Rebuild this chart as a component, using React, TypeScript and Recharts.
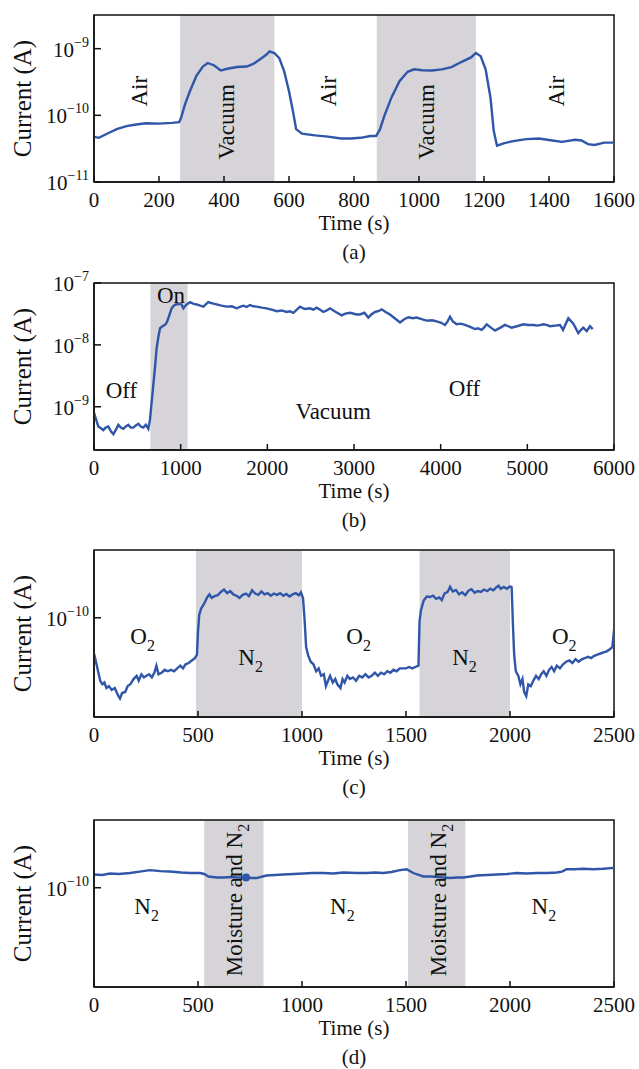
import {
  ComposedChart,
  Line,
  ReferenceArea,
  ReferenceDot,
  XAxis,
  YAxis,
} from "recharts";

const FONT = '"Liberation Serif", "Times New Roman", serif';
const BLUE = "#2f56a8";
const BAND = "#d6d4d8";
const INK = "#111";

// (a) air / vacuum cycling
const timeA = [0, 15, 40, 70, 100, 130, 160, 200, 240, 262, 268, 280, 295, 315, 335, 350, 370, 390, 410, 440, 470, 490, 510, 530, 540, 555, 570, 585, 600, 612, 622, 640, 680, 720, 760, 790, 820, 850, 868, 880, 895, 915, 940, 965, 985, 1010, 1040, 1070, 1100, 1130, 1160, 1175, 1190, 1205, 1220, 1230, 1240, 1260, 1290, 1330, 1370, 1410, 1440, 1480, 1500, 1520, 1540, 1570, 1600];
const curA = [4.75e-11, 4.6e-11, 5.3e-11, 6.2e-11, 6.9e-11, 7.3e-11, 7.6e-11, 7.5e-11, 7.7e-11, 7.9e-11, 9.2e-11, 1.46e-10, 2.3e-10, 3.9e-10, 5.4e-10, 6.1e-10, 5.6e-10, 4.7e-10, 5.0e-10, 5.3e-10, 5.4e-10, 5.9e-10, 6.9e-10, 8.1e-10, 9.1e-10, 8.6e-10, 7.2e-10, 4.6e-10, 2.3e-10, 1.16e-10, 6.2e-11, 5.3e-11, 5.0e-11, 4.8e-11, 4.5e-11, 4.5e-11, 4.6e-11, 4.9e-11, 4.9e-11, 6.2e-11, 1.03e-10, 1.84e-10, 3.25e-10, 4.5e-10, 4.9e-10, 4.75e-10, 4.7e-10, 4.9e-10, 5.3e-10, 6.3e-10, 7.4e-10, 8.6e-10, 7.7e-10, 4.9e-10, 1.84e-10, 5.8e-11, 3.5e-11, 3.8e-11, 4.1e-11, 4.4e-11, 4.5e-11, 4.2e-11, 4.0e-11, 4.3e-11, 4.2e-11, 3.7e-11, 3.6e-11, 3.9e-11, 3.9e-11];
const bandsA = [[265, 555], [870, 1175]];
const notesA = [
  { t: 137, v: 2.3e-10, text: "Air", rot: true },
  { t: 406, v: 8.0e-11, text: "Vacuum", rot: true },
  { t: 720, v: 2.3e-10, text: "Air", rot: true },
  { t: 1021, v: 8.0e-11, text: "Vacuum", rot: true },
  { t: 1422, v: 2.3e-10, text: "Air", rot: true },
];

// (b) light on / off in vacuum
const timeB = [0, 20, 50, 80, 107, 135, 165, 195, 223, 250, 281, 310, 338, 368, 396, 425, 454, 483, 512, 540, 569, 598, 627, 646, 660, 685, 705, 723, 745, 762, 790, 819, 840, 858, 878, 896, 920, 946, 985, 1010, 1031, 1050, 1069, 1108, 1150, 1185, 1225, 1262, 1290, 1319, 1365, 1415, 1470, 1531, 1590, 1646, 1685, 1723, 1760, 1800, 1840, 1877, 1935, 1992, 2050, 2108, 2165, 2223, 2260, 2300, 2340, 2377, 2430, 2492, 2530, 2569, 2610, 2646, 2685, 2723, 2790, 2858, 2900, 2954, 3031, 3069, 3120, 3165, 3200, 3242, 3280, 3319, 3365, 3415, 3470, 3531, 3580, 3627, 3680, 3723, 3780, 3838, 3900, 3954, 4000, 4050, 4080, 4108, 4140, 4185, 4230, 4281, 4340, 4396, 4430, 4473, 4500, 4531, 4580, 4627, 4690, 4742, 4780, 4819, 4880, 4954, 5010, 5069, 5120, 5185, 5220, 5262, 5320, 5377, 5412, 5473, 5531, 5588, 5620, 5646, 5685, 5723, 5754];
const curB = [8.0e-10, 6.5e-10, 4.8e-10, 4.5e-10, 4.2e-10, 4.6e-10, 4.8e-10, 4.0e-10, 3.6e-10, 4.2e-10, 5.1e-10, 4.6e-10, 4.4e-10, 4.8e-10, 5.1e-10, 4.6e-10, 4.6e-10, 5.0e-10, 5.3e-10, 4.8e-10, 4.6e-10, 5.1e-10, 4.4e-10, 6.2e-10, 1.0e-9, 2.3e-9, 4.5e-9, 8.9e-9, 1.4e-8, 1.86e-8, 2.0e-8, 2.1e-8, 2.3e-8, 2.7e-8, 3.3e-8, 3.9e-8, 4.3e-8, 4.5e-8, 4.6e-8, 4.5e-8, 3.9e-8, 4.2e-8, 4.5e-8, 4.9e-8, 4.6e-8, 4.5e-8, 4.3e-8, 4.15e-8, 4.5e-8, 4.9e-8, 4.7e-8, 4.5e-8, 4.3e-8, 4.15e-8, 4.2e-8, 3.9e-8, 4.1e-8, 4.3e-8, 4.1e-8, 4.4e-8, 4.2e-8, 4.15e-8, 4.0e-8, 3.9e-8, 3.7e-8, 3.5e-8, 3.6e-8, 3.4e-8, 3.5e-8, 3.3e-8, 3.7e-8, 4.15e-8, 3.8e-8, 3.9e-8, 3.7e-8, 4.0e-8, 3.7e-8, 3.4e-8, 3.6e-8, 3.9e-8, 3.4e-8, 3.0e-8, 3.2e-8, 3.3e-8, 3.1e-8, 3.1e-8, 3.3e-8, 2.76e-8, 3.1e-8, 3.4e-8, 3.5e-8, 3.75e-8, 3.4e-8, 3.1e-8, 2.7e-8, 2.3e-8, 2.6e-8, 2.8e-8, 2.7e-8, 2.76e-8, 2.6e-8, 2.47e-8, 2.5e-8, 2.4e-8, 2.3e-8, 2.1e-8, 2.4e-8, 2.86e-8, 2.4e-8, 2.15e-8, 2.2e-8, 2.1e-8, 1.95e-8, 1.8e-8, 1.85e-8, 1.75e-8, 1.9e-8, 2.15e-8, 1.9e-8, 1.7e-8, 1.9e-8, 2.1e-8, 2.0e-8, 1.9e-8, 2.0e-8, 2.15e-8, 2.1e-8, 2.1e-8, 2.05e-8, 2.15e-8, 2.1e-8, 2.0e-8, 2.05e-8, 2.1e-8, 1.75e-8, 2.7e-8, 2.2e-8, 1.55e-8, 1.75e-8, 1.9e-8, 1.67e-8, 2.0e-8, 1.8e-8];
const bandsB = [[650, 1080]];
const notesB = [
  { t: 316, v: 1.9e-9, text: "Off" },
  { t: 889, v: 6.4e-8, text: "On" },
  { t: 2761, v: 8.4e-10, text: "Vacuum" },
  { t: 4275, v: 2.0e-9, text: "Off" },
];

// (c) O2 / N2 switching
const timeC = [0, 8, 18, 30, 40, 50, 60, 72, 85, 100, 115, 125, 135, 150, 162, 175, 190, 205, 215, 228, 240, 252, 265, 278, 290, 300, 310, 325, 340, 355, 370, 385, 400, 415, 428, 440, 455, 470, 485, 495, 500, 506, 515, 530, 545, 555, 565, 580, 595, 610, 625, 640, 655, 670, 685, 700, 715, 730, 745, 760, 775, 790, 805, 820, 835, 850, 865, 880, 895, 910, 925, 940, 955, 970, 985, 995, 1005, 1012, 1020, 1030, 1042, 1055, 1068, 1080, 1092, 1105, 1115, 1125, 1135, 1148, 1160, 1170, 1185, 1195, 1205, 1218, 1230, 1245, 1260, 1275, 1290, 1305, 1320, 1335, 1350, 1365, 1380, 1395, 1410, 1425, 1440, 1455, 1470, 1485, 1500, 1515, 1530, 1545, 1560, 1565, 1572, 1585, 1600, 1615, 1630, 1645, 1660, 1672, 1685, 1700, 1712, 1725, 1740, 1755, 1770, 1785, 1800, 1815, 1830, 1845, 1860, 1875, 1890, 1905, 1920, 1935, 1945, 1955, 1970, 1985, 2000, 2008, 2014, 2020, 2028, 2040, 2050, 2060, 2068, 2078, 2088, 2100, 2112, 2125, 2138, 2150, 2162, 2175, 2188, 2200, 2212, 2225, 2240, 2255, 2270, 2285, 2300, 2315, 2330, 2345, 2360, 2375, 2390, 2405, 2420, 2435, 2450, 2465, 2480, 2492, 2500];
const curC = [5.6, 5.0, 4.3, 3.6, 3.4, 3.5, 3.2, 3.3, 3.1, 3.2, 2.85, 2.7, 2.95, 3.0, 3.3, 3.4, 3.7, 3.9, 3.6, 4.0, 3.8, 3.9, 4.0, 3.8, 4.1, 4.6, 4.0, 4.1, 4.3, 4.2, 4.3, 4.2, 4.4, 4.6, 4.4, 4.7, 4.8, 5.0, 5.2, 5.5, 8.0, 10.5, 11.6, 12.6, 14.0, 14.6, 13.8, 14.2, 14.4, 15.2, 15.8, 14.9, 15.4, 14.6, 14.3, 13.8, 14.5, 14.8, 14.2, 15.6, 14.8, 14.5, 15.3, 14.6, 14.9, 14.3, 14.8, 14.5, 14.9, 14.3, 14.7, 14.1, 14.6, 14.9, 14.4, 15.1, 13.7, 9.9, 6.2, 5.4, 4.9, 4.7, 4.2, 4.4, 3.9, 4.0, 3.3, 3.6, 3.9, 3.5, 3.7, 3.4, 3.2, 3.7, 3.5, 3.9, 3.7, 3.8, 3.6, 3.9, 3.8, 4.0, 3.8, 3.9, 4.1, 3.9, 4.1, 4.0, 4.2, 4.1, 4.3, 4.2, 4.4, 4.4, 4.4, 4.5, 4.4, 4.5, 4.6, 9.4, 11.3, 13.2, 14.1, 14.0, 14.3, 13.6, 13.9, 13.3, 14.8, 15.2, 16.5, 15.3, 15.7, 14.6, 15.1, 14.4, 15.5, 15.9, 15.0, 15.4, 15.2, 15.8, 15.4, 16.0, 15.6, 16.4, 16.8, 16.0, 16.5, 16.0, 16.6, 16.4, 9.0, 5.5, 4.2, 3.9, 3.4, 3.7, 3.0, 2.8, 3.4, 3.3, 3.6, 3.9, 3.7, 4.0, 4.2, 3.9, 4.3, 4.5, 4.2, 4.6, 4.4, 4.7, 4.9, 5.0, 4.8, 5.1, 4.9, 5.1, 5.2, 5.3, 5.2, 5.4, 5.5, 5.6, 5.7, 5.8, 6.0, 6.2, 8.2].map((v) => v * 1e-11);
const bandsC = [[490, 1000], [1565, 2000]];
const notesC = [
  { t: 234, v: 7.4e-11, text: "O", sub: "2" },
  { t: 753, v: 5.3e-11, text: "N", sub: "2" },
  { t: 1272, v: 7.4e-11, text: "O", sub: "2" },
  { t: 1781, v: 5.3e-11, text: "N", sub: "2" },
  { t: 2261, v: 7.4e-11, text: "O", sub: "2" },
];

// (d) moisture in N2
const timeD = [0, 40, 77, 120, 173, 220, 269, 320, 365, 420, 462, 510, 530, 550, 590, 622, 660, 687, 731, 760, 782, 810, 830, 870, 910, 960, 1006, 1050, 1103, 1150, 1199, 1263, 1311, 1350, 1391, 1430, 1471, 1503, 1535, 1583, 1620, 1647, 1680, 1712, 1745, 1776, 1810, 1840, 1890, 1936, 1985, 2032, 2080, 2128, 2180, 2224, 2250, 2272, 2310, 2352, 2400, 2448, 2500];
const curD = [1.24, 1.23, 1.26, 1.25, 1.27, 1.3, 1.33, 1.31, 1.3, 1.28, 1.27, 1.27, 1.25, 1.2, 1.18, 1.18, 1.19, 1.18, 1.18, 1.17, 1.17, 1.2, 1.22, 1.23, 1.24, 1.25, 1.26, 1.27, 1.27, 1.26, 1.28, 1.27, 1.27, 1.28, 1.27, 1.29, 1.33, 1.35, 1.27, 1.2, 1.2, 1.19, 1.18, 1.17, 1.18, 1.18, 1.2, 1.22, 1.23, 1.24, 1.25, 1.27, 1.26, 1.27, 1.27, 1.28, 1.3, 1.35, 1.35, 1.36, 1.35, 1.36, 1.38].map((v) => v * 1e-10);
const bandsD = [[530, 815], [1510, 1785]];
const markD = [{ t: 731, v: 1.18e-10 }];
const notesD = [
  { t: 253, v: 7.4e-11, text: "N", sub: "2" },
  { t: 674, v: 8.2e-11, text: "Moisture and N", sub: "2", rot: true },
  { t: 1194, v: 7.4e-11, text: "N", sub: "2" },
  { t: 1654, v: 8.2e-11, text: "Moisture and N", sub: "2", rot: true },
  { t: 2163, v: 7.4e-11, text: "N", sub: "2" },
];

const decadeMinors = (lo: number, hi: number) => {
  const out: number[] = [];
  for (let e = -12; e <= -6; e++) {
    for (let m = 2; m <= 9; m++) {
      const v = m * Math.pow(10, e);
      if (v >= lo * 0.999 && v <= hi * 1.001) out.push(v);
    }
  }
  return out;
};

type Note = { t: number; v: number; text: string; sub?: string; rot?: boolean };

interface PanelProps {
  top: number;
  caption: string;
  time: number[];
  current: number[];
  bands: number[][];
  notes: Note[];
  xMax: number;
  xTicks: number[];
  xMinor: number[];
  yDomain: [number, number];
  yTicks: number[];
  marks?: { t: number; v: number }[];
}

// ticks point into the plot, so the marks are drawn by the tick renderers
const XMajorTick = (p: any) => (
  <g>
    <line x1={p.x} x2={p.x} y1={p.y} y2={p.y - 6} stroke={INK} strokeWidth={1.5} />
    <text x={p.x} y={p.y + 18} dy="0.35em" textAnchor="middle" fontSize={21} fontFamily={FONT} fill={INK}>
      {p.payload.value}
    </text>
  </g>
);

const XMinorTick = (p: any) => <line x1={p.x} x2={p.x} y1={p.y} y2={p.y - 4} stroke={INK} strokeWidth={1.2} />;

const YMajorTick = (p: any) => {
  const e = Math.round(Math.log10(p.payload.value));
  return (
    <g>
      <line x1={p.x} x2={p.x + 7} y1={p.y} y2={p.y} stroke={INK} strokeWidth={1.5} />
      <text x={p.x - 5} y={p.y} dy="0.38em" textAnchor="end" fontSize={21} fontFamily={FONT} fill={INK}>
        10
        <tspan dy={-10} fontSize={14}>
          {"\u2212" + Math.abs(e)}
        </tspan>
      </text>
    </g>
  );
};

const YMinorTick = (p: any) => <line x1={p.x} x2={p.x + 4} y1={p.y} y2={p.y} stroke={INK} strokeWidth={1.2} />;

const Panel = ({ top, caption, time, current, bands, notes, xMax, xTicks, xMinor, yDomain, yTicks, marks = [] }: PanelProps) => {
  const data = time.map((t, i) => ({ t, v: current[i] }));
  const yMinor = decadeMinors(yDomain[0], yDomain[1]);
  return (
    <div style={{ position: "absolute", left: 0, top }}>
      <ComposedChart width={639} height={264} data={data} margin={{ top: 15, right: 25, left: 0, bottom: 0 }}>
        <XAxis xAxisId="minor" dataKey="t" type="number" domain={[0, xMax]} ticks={xMinor} interval={0} height={0} tickSize={0} tickMargin={0} tick={XMinorTick} axisLine={false} tickLine={false} allowDataOverflow />
        <XAxis
          dataKey="t"
          type="number"
          domain={[0, xMax]}
          ticks={xTicks}
          interval={0}
          height={82}
          tickSize={0}
          tickMargin={0}
          tick={XMajorTick}
          axisLine={{ stroke: INK, strokeWidth: 1.5 }}
          tickLine={false}
          allowDataOverflow
          label={(lp: any) => {
            const vb = lp.viewBox;
            const cx = vb.x + vb.width / 2;
            return (
              <g fontFamily={FONT} fill={INK} fontSize={21} textAnchor="middle">
                <text x={cx} y={vb.y + 41} dy="0.35em">Time (s)</text>
                <text x={cx} y={vb.y + 70} dy="0.35em">{caption}</text>
              </g>
            );
          }}
        />
        <YAxis yAxisId="minor" type="number" scale="log" domain={yDomain} allowDataOverflow width={0} ticks={yMinor} interval={0} tickSize={0} tickMargin={0} tick={YMinorTick} axisLine={false} tickLine={false} />
        <YAxis
          yAxisId={0}
          dataKey="v"
          type="number"
          scale="log"
          domain={yDomain}
          allowDataOverflow
          width={94}
          ticks={yTicks}
          interval={0}
          tickSize={0}
          tickMargin={0}
          tick={YMajorTick}
          axisLine={{ stroke: INK, strokeWidth: 1.5 }}
          tickLine={false}
          label={(lp: any) => {
            const vb = lp.viewBox;
            const cy = vb.y + vb.height / 2;
            return (
              <text x={22} y={cy} dy="0.35em" textAnchor="middle" fontSize={25} fontFamily={FONT} fill={INK} transform={`rotate(-90 22 ${cy})`}>
                Current (A)
              </text>
            );
          }}
        />
        {bands.map(([a, b]) => (
          <ReferenceArea key={a} x1={a} x2={b} fill={BAND} fillOpacity={1} stroke="none" ifOverflow="hidden" />
        ))}
        {notes.map((n, i) => (
          <ReferenceDot
            key={i}
            x={n.t}
            y={n.v}
            r={1}
            shape={(p: any) => (
              <text x={p.cx} y={p.cy} dy="0.35em" textAnchor="middle" fontSize={23} fontFamily={FONT} fill={INK}
                transform={n.rot ? `rotate(-90 ${p.cx} ${p.cy})` : undefined}>
                {n.text}
                {n.sub && (
                  <tspan dy={7} fontSize={16}>
                    {n.sub}
                  </tspan>
                )}
              </text>
            )}
          />
        ))}
        <Line dataKey="v" type="linear" stroke={BLUE} strokeWidth={2.4} dot={false} isAnimationActive={false} />
        {marks.map((m, i) => (
          <ReferenceDot key={"m" + i} x={m.t} y={m.v} r={4} fill={BLUE} stroke="none" />
        ))}
        <ReferenceArea x1={0} x2={xMax} y1={yDomain[0]} y2={yDomain[1]} fill="none" stroke={INK} strokeWidth={1.5} ifOverflow="extendDomain" />
      </ComposedChart>
    </div>
  );
};

const App = () => {
  return (
    <div style={{ position: "absolute", left: 0, top: 0, width: 639, height: 1069, background: "#fff" }}>
      <Panel top={0} caption="(a)" time={timeA} current={curA} bands={bandsA} notes={notesA} xMax={1600}
        xTicks={[0, 200, 400, 600, 800, 1000, 1200, 1400, 1600]} xMinor={[100, 300, 500, 700, 900, 1100, 1300, 1500]}
        yDomain={[1e-11, 3.2e-9]} yTicks={[1e-11, 1e-10, 1e-9]} />
      <Panel top={268} caption="(b)" time={timeB} current={curB} bands={bandsB} notes={notesB} xMax={6000}
        xTicks={[0, 1000, 2000, 3000, 4000, 5000, 6000]} xMinor={[500, 1500, 2500, 3500, 4500, 5500]}
        yDomain={[2e-10, 1e-7]} yTicks={[1e-9, 1e-8, 1e-7]} />
      <Panel top={535} caption="(c)" time={timeC} current={curC} bands={bandsC} notes={notesC} xMax={2500}
        xTicks={[0, 500, 1000, 1500, 2000, 2500]} xMinor={[250, 750, 1250, 1750, 2250]}
        yDomain={[2e-11, 3e-10]} yTicks={[1e-10]} />
      <Panel top={805} caption="(d)" time={timeD} current={curD} bands={bandsD} notes={notesD} xMax={2500}
        xTicks={[0, 500, 1000, 1500, 2000, 2500]} xMinor={[250, 750, 1250, 1750, 2250]}
        yDomain={[2e-11, 3e-10]} yTicks={[1e-10]} marks={markD} />
    </div>
  );
};

export default App;
